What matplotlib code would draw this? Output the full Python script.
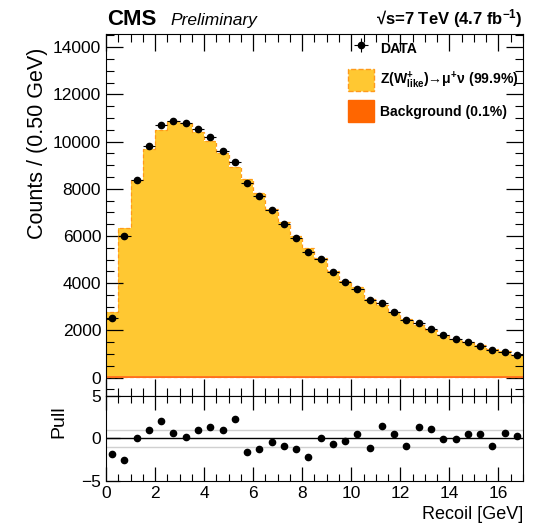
import numpy as np
import matplotlib
matplotlib.use('Agg')
import matplotlib.pyplot as plt
from matplotlib.patches import Patch
from matplotlib.ticker import MultipleLocator

# 字体设置
plt.rcParams['font.family'] = ['Liberation Sans', 'DejaVu Sans']
plt.rcParams['mathtext.fontset'] = 'custom'
plt.rcParams['mathtext.rm'] = 'Liberation Sans:bold'
plt.rcParams['mathtext.bf'] = 'Liberation Sans:bold'
plt.rcParams['mathtext.it'] = 'Liberation Sans:bold'
plt.rcParams['mathtext.default'] = 'regular'

# 数据 (0.5 GeV bins, 0-17 GeV)
bin_width = 0.5
n_bins = 34
data = [2530, 6017, 8364, 9818, 10720, 10890, 10780, 10550, 10186, 9619,
        9153, 8237, 7699, 7093, 6513, 5919, 5326, 5017, 4466, 4068,
        3771, 3292, 3170, 2784, 2432, 2318, 2051, 1809, 1627, 1500,
        1343, 1161, 1102, 975]
model = [2797, 6356, 8364, 9690, 10483, 10890, 10780, 10424, 10030, 9534,
         8930, 8407, 7814, 7136, 6597, 6017, 5483, 5085, 4534, 4110,
         3831, 3347, 3081, 2797, 2475, 2233, 2021, 1809, 1653, 1525,
         1373, 1229, 1144, 975]
background = [4, 5, 6, 6, 6, 6, 6, 6, 6, 6,
              5, 5, 5, 5, 5, 5, 5, 5, 5, 5,
              5, 5, 5, 5, 5, 5, 5, 5, 5, 5,
              5, 5, 5, 5]
pull = [-1.88, -2.5, 0.0, 1.0, 2.0, 0.7, 0.2, 0.95, 1.3, 0.95,
        2.3, -1.56, -1.25, -0.43, -0.94, -1.2, -2.15, 0.03, -0.67, -0.35,
        0.55, -1.13, 1.45, 0.55, -0.9, 1.37, 1.1, -0.08, -0.04, 0.47,
        0.47, -0.9, 0.67, 0.3]

edges = np.arange(n_bins + 1) * bin_width
centers = edges[:-1] + bin_width / 2
data = np.array(data)
model = np.array(model)
background = np.array(background)

fig = plt.figure(figsize=(5.36, 5.24), dpi=100)
ax = fig.add_axes([0.1978, 0.2443, 0.7779, 0.6908])
axp = fig.add_axes([0.1978, 0.0821, 0.7779, 0.1622], sharex=ax)

# 堆叠直方图
ax.stairs(model, edges, baseline=background, fill=True, color='#ffc832', zorder=1)
ax.stairs(model, edges, baseline=background, fill=False, color='#ff9a1a',
          linestyle=(0, (3, 2)), linewidth=0.9, zorder=2)
ax.stairs(background, edges, fill=True, color='#ff6600', zorder=2)
ax.stairs(background, edges, fill=False, color='#ff7020', linewidth=1.3, zorder=2)

# 数据点
eb = ax.errorbar(centers, data, xerr=bin_width / 2, yerr=np.sqrt(data), fmt='o',
                 color='black', ms=4.5, elinewidth=0.8, capsize=0, zorder=5)

ax.set_xlim(0, 17)
ax.set_ylim(-780, 14560)
ax.yaxis.set_major_locator(MultipleLocator(2000))
ax.yaxis.set_minor_locator(MultipleLocator(500))
ax.xaxis.set_major_locator(MultipleLocator(2))
ax.xaxis.set_minor_locator(MultipleLocator(0.5))
ax.tick_params(which='both', direction='in', top=True, right=True, labelsize=12.5)
ax.tick_params(which='major', length=12, width=0.9)
ax.tick_params(which='minor', length=6, width=0.8)
ax.tick_params(labelbottom=False)
ax.set_ylabel('Counts / (0.50 GeV)', fontsize=15.5, loc='top')
ax.yaxis.set_label_coords(-0.139, 0.961)

# 图例
sig_patch = Patch(facecolor='#ffc832', edgecolor='#ff9a1a', linestyle='--', linewidth=1.0)
bkg_patch = Patch(facecolor='#ff6600', edgecolor='#ff6600')
leg = ax.legend([eb, sig_patch, bkg_patch],
                ['DATA', 'Z(W$^{+}_{like}$)→μ$^{+}$ν (99.9%)', 'Background (0.1%)'],
                loc='upper left', bbox_to_anchor=(0.553, 1.022), frameon=False,
                prop={'weight': 'bold', 'size': 10.1}, handlelength=1.9, handleheight=2.1,
                labelspacing=0.62, handletextpad=0.42, borderaxespad=0.4)

# 标题
fig.text(0.2, 0.953, 'CMS', fontsize=16, fontweight='bold', ha='left', va='baseline')
fig.text(0.318, 0.953, 'Preliminary', fontsize=12.5, fontstyle='italic', ha='left', va='baseline')
fig.text(0.9757, 0.953, r'√s=7 TeV (4.7 fb$^{-1}$)', fontsize=12, fontweight='bold',
         ha='right', va='baseline')

# Pull 面板
axp.axhline(1, color='#d0d0d0', lw=1.0, zorder=1)
axp.axhline(-1, color='#d0d0d0', lw=1.0, zorder=1)
axp.axhline(0, color='black', lw=1.0, zorder=2)
axp.plot(centers, pull, 'o', color='black', ms=4.5, zorder=3)
axp.set_ylim(-5, 5)
axp.set_yticks([-5, 0, 5])
axp.yaxis.set_minor_locator(MultipleLocator(1))
axp.tick_params(which='both', direction='in', top=True, labelsize=12.5)
axp.tick_params(which='major', length=10, width=0.9)
axp.tick_params(which='minor', length=5, width=0.8, left=False)
axp.set_ylabel('Pull', fontsize=14, loc='top')
axp.yaxis.set_label_coords(-0.0935, 0.894)
axp.set_xlabel('Recoil [GeV]', fontsize=13, loc='right')

fig.savefig('out.png', dpi=100)
